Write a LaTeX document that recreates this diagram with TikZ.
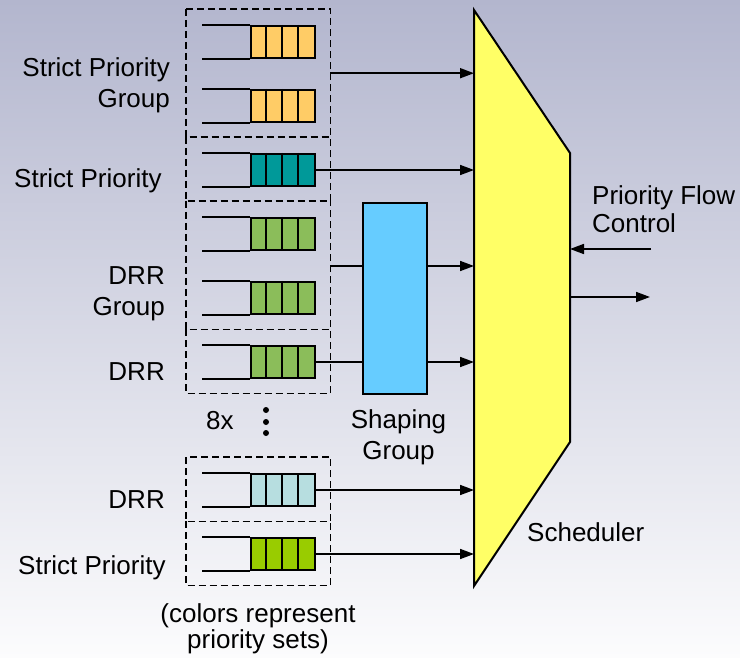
\documentclass[tikz,border=0pt]{standalone}
\usepackage{fontspec}
\setmainfont{Liberation Sans}
\usetikzlibrary{arrows.meta}
\definecolor{bgtop}{RGB}{179,182,206}
\definecolor{bgmid}{RGB}{224,225,234}
\definecolor{bgbot}{RGB}{252,252,253}
\definecolor{qorange}{RGB}{255,204,102}
\definecolor{qteal}{RGB}{0,153,153}
\definecolor{qgreen}{RGB}{139,189,90}
\definecolor{qcyan}{RGB}{183,222,224}
\definecolor{qlime}{RGB}{153,204,0}
\definecolor{shapefill}{RGB}{102,204,255}
\definecolor{schedfill}{RGB}{255,255,102}
\tikzset{
  lbl/.style={inner sep=0pt, font=\fontsize{26}{31}\selectfont},
  queuebox/.style={draw=black, line width=2pt, minimum width=64pt, minimum height=32pt, inner sep=0pt, anchor=north west},
  groupbox/.style={minimum width=144pt, inner sep=0pt, anchor=north west},
  dashline/.style={draw=black, line width=1.8pt, dash pattern=on 7pt off 4pt},
  conn/.style={line width=1.7pt},
  arr/.style={line width=1.7pt, -{Triangle[length=14pt,width=10pt]}},
}
\begin{document}
\begin{tikzpicture}[x=1pt,y=-1pt]
\useasboundingbox (0,0) rectangle (740,658);
\shade[top color=bgtop, middle color=bgmid, bottom color=bgbot] (0,0) rectangle (740,658);

% dashed group boxes
\node[groupbox, minimum height=128pt] (g1) at (186,9) {};
\node[groupbox, minimum height=64pt] (g2) at (186,137) {};
\node[groupbox, minimum height=128pt] (g3) at (186,201) {};
\node[groupbox, minimum height=64pt] (g4) at (186,329) {};
\node[groupbox, minimum height=64pt] (g5) at (186,457) {};
\node[groupbox, minimum height=64pt] (g6) at (186,521) {};
\draw[dashline] (g1.north west) rectangle (g1.south east);
\draw[dashline] (g5.north west) rectangle (g5.south east);
\foreach \g in {g2,g3,g4,g6}{
  \draw[dashline] (\g.north west) -- (\g.south west) -- (\g.south east) -- (\g.north east);
}

% queues
\foreach \n/\y/\c in {q1/25/qorange, q2/89/qorange, q3/153/qteal, q4/217/qgreen, q5/281/qgreen, q6/345/qgreen, q7/473/qcyan, q8/537/qlime}{
  \node[queuebox, fill=\c] (\n) at (250,\y) {};
  \draw[line width=2pt] (\n.north west) -- ++(-48,0);
  \draw[line width=2pt] (\n.south west) -- ++(-48,0);
  \foreach \k in {16,32,48}{
    \draw[line width=2pt] ([xshift=\k pt]\n.north west) -- ([xshift=\k pt]\n.south west);
  }
}

% shaping group
\node[draw=black, line width=2pt, fill=shapefill, minimum width=64pt, minimum height=191pt, inner sep=0pt, anchor=north west] (shp) at (362,202) {};

% scheduler
\draw[line width=2pt, fill=schedfill, line join=miter] (474,10) -- (570,153) -- (570,442) -- (474,586) -- cycle;
\coordinate (schedL) at (474,300);
\coordinate (schedR) at (570,300);
\coordinate (pfcin) at (651,249);
\coordinate (outend) at (650,297);

% connectors
\draw[arr] (g1.east) -- (g1.east -| schedL);
\draw[arr] (q3.east) -- (q3.east -| schedL);
\draw[conn] (330,266) coordinate (g3o) -- (g3o -| shp.west);
\draw[arr] (g3o -| shp.east) -- (g3o -| schedL);
\draw[conn] (q6.east) -- (q6.east -| shp.west);
\draw[arr] (q6.east -| shp.east) -- (q6.east -| schedL);
\draw[arr] (q7.east) -- (q7.east -| schedL);
\draw[arr] (q8.east) -- (q8.east -| schedL);
\draw[arr] (pfcin) -- (pfcin -| schedR);
\draw[arr] (outend -| schedR) -- (outend);

% dots
\fill (266,410) circle (3pt);
\fill (266,422) circle (3pt);
\fill (266,433) circle (3pt);

% labels
\node[lbl, anchor=base east] (t1a) at (170,77) {Strict Priority};
\node[lbl, anchor=base east] (t1b) at (170,108) {Group};
\node[lbl, anchor=base west] (t2) at (14,188) {Strict Priority};
\node[lbl, anchor=base east] (t3a) at (165,284) {DRR};
\node[lbl, anchor=base east] (t3b) at (165,316) {Group};
\node[lbl, anchor=base east] (t4) at (165,380) {DRR};
\node[lbl, anchor=base west] (t8x) at (206,429) {8x};
\node[lbl, anchor=base] (tsa) at (398.5,428) {Shaping};
\node[lbl, anchor=base] (tsb) at (398.5,459) {Group};
\node[lbl, anchor=base east] (t5) at (165,508) {DRR};
\node[lbl, anchor=base west] (t6) at (18,574) {Strict Priority};
\node[lbl, anchor=base] (tca) at (258,622) {(colors represent};
\node[lbl, anchor=base] (tcb) at (258,648) {priority sets)};
\node[lbl, anchor=base west] (tpa) at (592,205) {Priority Flow};
\node[lbl, anchor=base west] (tpb) at (592,233) {Control};
\node[lbl, anchor=base west] (tsch) at (527,541) {Scheduler};
\end{tikzpicture}
\end{document}
